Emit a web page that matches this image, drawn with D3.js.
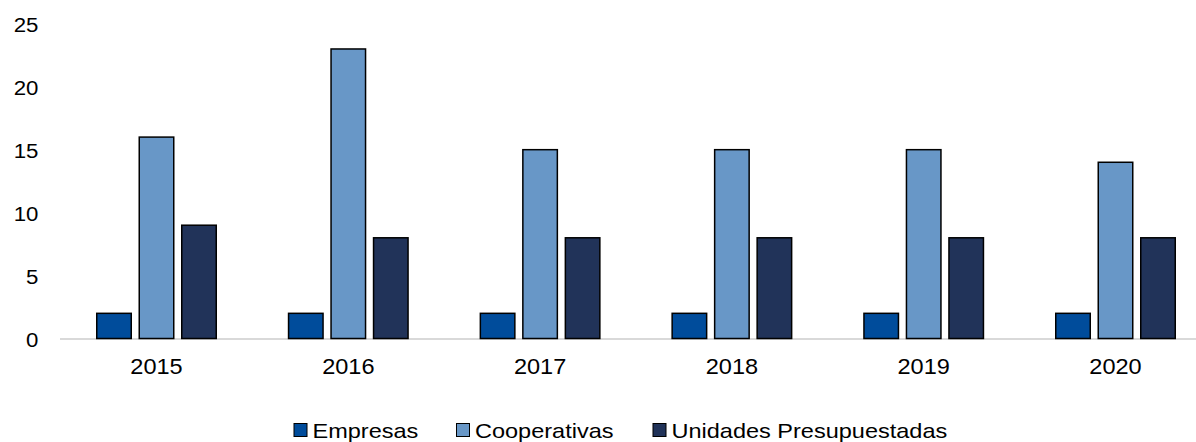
<!DOCTYPE html>
<html>
<head>
<meta charset="utf-8">
<script src="https://cdn.jsdelivr.net/npm/d3@7"></script>
<style>
  html, body { margin: 0; padding: 0; background: #fff; }
  svg { display: block; }
  text { font-family: "Liberation Sans", Arial, sans-serif; fill: #000; }
</style>
</head>
<body>
<svg id="chart" width="1196" height="442"></svg>
<script>
const years = ["2015", "2016", "2017", "2018", "2019", "2020"];
const seriesNames = ["Empresas", "Cooperativas", "Unidades Presupuestadas"];
const empresas = [2, 2, 2, 2, 2, 2];
const cooperativas = [16, 23, 15, 15, 15, 14];
const unidades = [9, 8, 8, 8, 8, 8];
const yTicks = [0, 5, 10, 15, 20, 25];
const colors = ["#004c9b", "#6897c7", "#213359"];

const seriesValues = [empresas, cooperativas, unidades];
const svg = d3.select("#chart");

const y = d3.scaleLinear().domain([0, 25]).range([338.5, 23.8]);
const x = d3.scaleBand().domain(years).range([60.6, 1211.4]).paddingInner(0).paddingOuter(0);
const barW = 34.5, barGap = 8;
const inner = d3.scaleBand().domain(seriesNames)
  .range([-(3 * barW + 2 * barGap) / 2, (3 * barW + 2 * barGap) / 2])
  .paddingInner(barGap / (barW + barGap)).paddingOuter(0);

// y axis labels
const yAxis = d3.axisLeft(y).tickValues(yTicks).tickSize(0).tickPadding(0).tickFormat(d3.format("d"));
const gy = svg.append("g").attr("transform", "translate(38.5,0)").call(yAxis);
gy.select(".domain").remove();
gy.selectAll("text").style("font-size", "21px").attr("dy", "0.36em").attr("x", 0)
  .attr("transform", "scale(1.06,1)")
  .style("font-family", '"Liberation Sans", Arial, sans-serif').attr("fill", "#000");

// x axis baseline
svg.append("line").attr("x1", 60).attr("x2", 1196).attr("y1", y(0) + 0.5).attr("y2", y(0) + 0.5)
  .attr("stroke", "#d9d9d9").attr("stroke-width", 2);

// bars
seriesNames.forEach((name, si) => {
  svg.append("g").selectAll("rect").data(years).join("rect")
    .attr("x", d => x(d) + x.bandwidth() / 2 + inner(name))
    .attr("width", inner.bandwidth())
    .attr("y", (d, i) => y(seriesValues[si][i]))
    .attr("height", (d, i) => y(0) - y(seriesValues[si][i]))
    .attr("fill", colors[si])
    .attr("stroke", "#000").attr("stroke-width", 1.5);
});

// x labels
const xAxis = d3.axisBottom(x).tickSize(0).tickPadding(0);
const gx = svg.append("g").attr("transform", "translate(0," + 374 + ")").call(xAxis);
gx.select(".domain").remove();
gx.selectAll("text").attr("dy", 0).attr("y", 0).style("font-size", "22px")
  .attr("transform", "scale(1.07,1)")
  .style("font-family", '"Liberation Sans", Arial, sans-serif').attr("fill", "#000");

// legend
const legendX = [294, 456.5, 653];
const lg = svg.append("g");
seriesNames.forEach((name, i) => {
  lg.append("rect").attr("x", legendX[i]).attr("y", 423.5).attr("width", 13).attr("height", 13)
    .attr("fill", colors[i]).attr("stroke", "#000").attr("stroke-width", 1);
  lg.append("text").attr("transform", `translate(${legendX[i] + 18.5},438) scale(1.12,1)`)
    .style("font-size", "21px").text(name);
});
</script>
</body>
</html>
